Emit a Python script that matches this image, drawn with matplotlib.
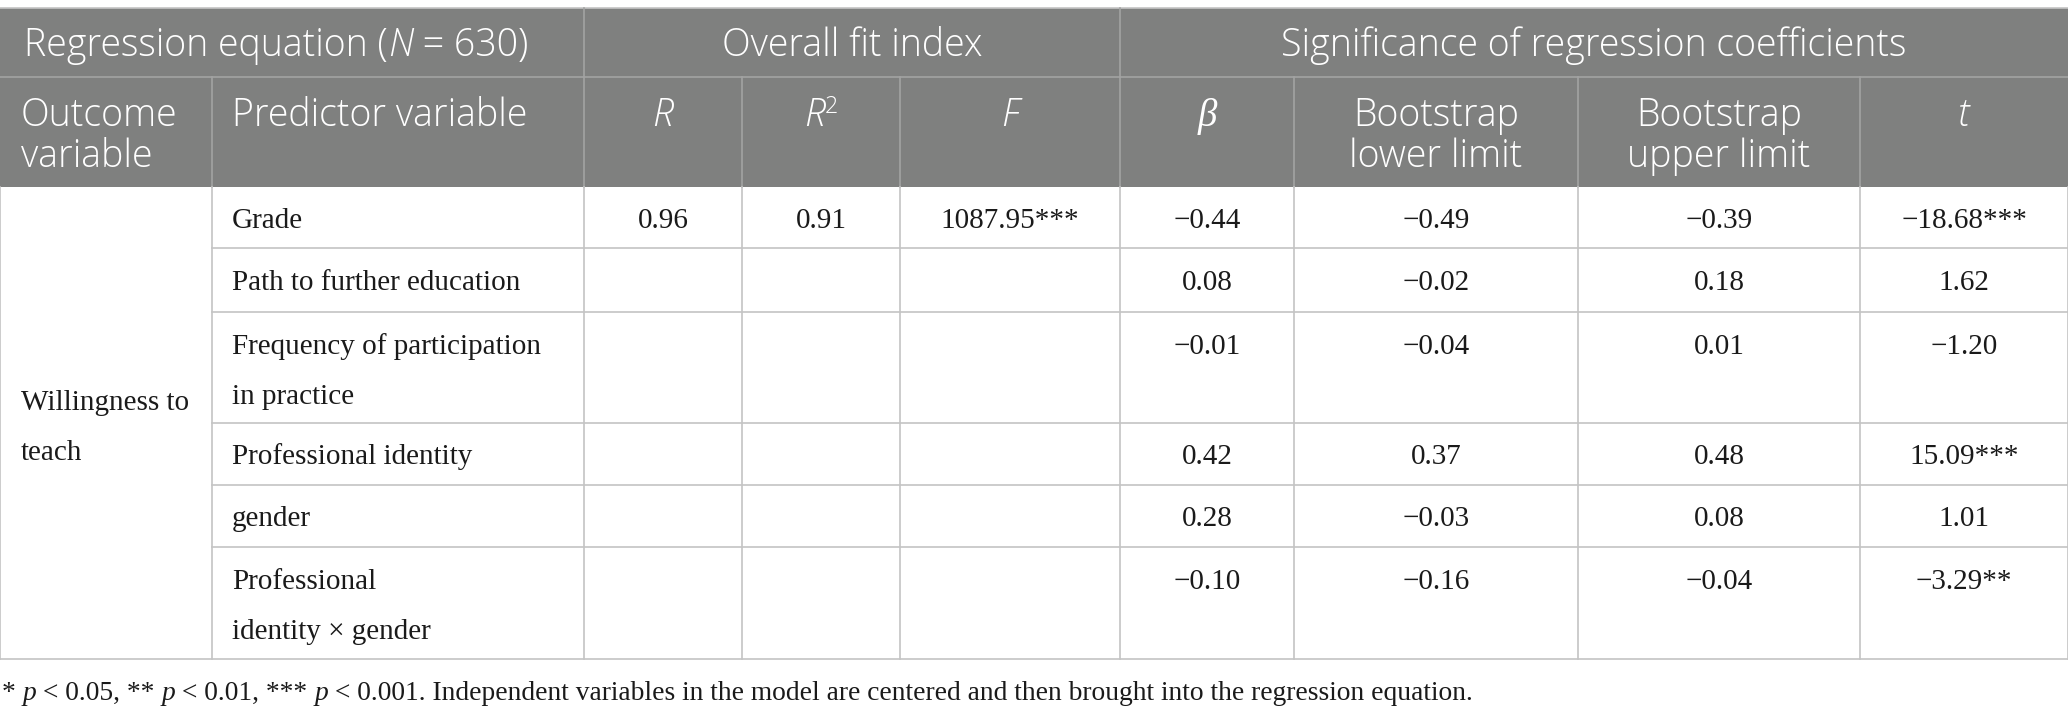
import matplotlib
matplotlib.use('Agg')
import matplotlib.pyplot as plt

# table contents
group_headers = ['Regression equation', 'Overall fit index', 'Significance of regression coefficients']
outcome = ['Willingness to', 'teach']
predictors = [['Grade'],
              ['Path to further education'],
              ['Frequency of participation', 'in practice'],
              ['Professional identity'],
              ['gender'],
              ['Professional', 'identity \u00d7 gender']]
r_vals = ['0.96', '', '', '', '', '']
r2_vals = ['0.91', '', '', '', '', '']
f_vals = ['1087.95***', '', '', '', '', '']
beta_vals = ['\u22120.44', '0.08', '\u22120.01', '0.42', '0.28', '\u22120.10']
lower_vals = ['\u22120.49', '\u22120.02', '\u22120.04', '0.37', '\u22120.03', '\u22120.16']
upper_vals = ['\u22120.39', '0.18', '0.01', '0.48', '0.08', '\u22120.04']
t_vals = ['\u221218.68***', '1.62', '\u22121.20', '15.09***', '1.01', '\u22123.29**']
sample_n = 630

W, H = 2068, 717
fig = plt.figure(figsize=(W / 100, H / 100), dpi=100)
ax = fig.add_axes([0, 0, 1, 1])
ax.set_xlim(0, W)
ax.set_ylim(H, 0)
ax.axis('off')
renderer = fig.canvas.get_renderer()

HEAD_BG = '#7f807f'
HEAD_LINE = '#a3a3a3'
GRID = '#c4c4c4'
SANS = ['Open Sans', 'DejaVu Sans']
SERIF = ['Liberation Serif', 'DejaVu Serif']
HS = 27     # header font size
BS = 21     # body font size
FS = 19.8   # footnote font size

col_x = [0, 212, 584, 742, 900, 1120, 1294, 1578, 1860, 2068]
row_y = [187, 248, 312, 423, 485, 547, 659]
top, mid = 8, 77


def sans(**kw):
    d = dict(family=SANS, size=HS, color='white', weight='light')
    d.update(kw)
    return d


def serif(**kw):
    d = dict(family=SERIF, size=BS, color='#1a1a1a')
    d.update(kw)
    return d


def text_width(s, kw):
    t = ax.text(0, 0, '|' + s + '|', **kw)
    w1 = t.get_window_extent(renderer).width
    t.remove()
    t = ax.text(0, 0, '||', **kw)
    w0 = t.get_window_extent(renderer).width
    t.remove()
    return w1 - w0


def runs(x, y, parts, ha='left'):
    # parts: list of (text, style, dy)
    widths = [text_width(p[0], p[1]) for p in parts]
    if ha == 'center':
        x -= sum(widths) / 2
    for (s, kw, dy), w in zip(parts, widths):
        ax.text(x, y + dy, s, ha='left', va='baseline', **kw)
        x += w


def cx(i):
    return (col_x[i] + col_x[i + 1]) / 2


# header background
ax.add_patch(plt.Rectangle((0, top), W, row_y[0] - top, color=HEAD_BG, lw=0))
ax.plot([0, W], [top, top], color=GRID, lw=1.2)
ax.plot([0, W], [mid, mid], color=HEAD_LINE, lw=1.2)
for x in [col_x[2], col_x[5]]:
    ax.plot([x, x], [top, mid], color=HEAD_LINE, lw=1.2)
for x in col_x[1:-1]:
    ax.plot([x, x], [mid, row_y[0]], color=HEAD_LINE, lw=1.2)

# header row 1
b1 = 56
runs(24, b1, [(group_headers[0] + ' (', sans(), 0), ('N', sans(style='italic'), 0),
              (' = %d)' % sample_n, sans(), 0)])
runs((col_x[2] + col_x[5]) / 2, b1, [(group_headers[1], sans(), 0)], ha='center')
runs((col_x[5] + col_x[9]) / 2, b1, [(group_headers[2], sans(), 0)], ha='center')

# header row 2
l1, l2 = 126, 167
runs(21, l1, [('Outcome', sans(), 0)])
runs(21, l2, [('variable', sans(), 0)])
runs(232, l1, [('Predictor variable', sans(), 0)])
runs(cx(2), l1, [('R', sans(style='italic'), 0)], ha='center')
runs(cx(3), l1, [('R', sans(style='italic'), 0), ('2', sans(size=HS * 0.62), -13)], ha='center')
runs(cx(4), l1, [('F', sans(style='italic'), 0)], ha='center')
runs(cx(5), l1, [('\u03b2', dict(family=SERIF, size=HS + 1, color='white', style='italic'), 0)],
     ha='center')
runs(cx(6), l1, [('Bootstrap', sans(), 0)], ha='center')
runs(cx(6), l2, [('lower limit', sans(), 0)], ha='center')
runs(cx(7), l1, [('Bootstrap', sans(), 0)], ha='center')
runs(cx(7), l2, [('upper limit', sans(), 0)], ha='center')
runs(cx(8), l1, [('t', sans(style='italic'), 0)], ha='center')

# body grid
for y in row_y[1:-1]:
    ax.plot([col_x[1], W], [y, y], color=GRID, lw=1.2)
ax.plot([0, W], [row_y[-1], row_y[-1]], color=GRID, lw=1.2)
for x in col_x:
    ax.plot([x, x], [row_y[0], row_y[-1]], color=GRID, lw=1.2)

# body text
runs(21, 410, [(outcome[0], serif(), 0)])
runs(21, 460, [(outcome[1], serif(), 0)])
cols = [r_vals, r2_vals, f_vals, beta_vals, lower_vals, upper_vals, t_vals]
for i, lines in enumerate(predictors):
    y0, y1 = row_y[i], row_y[i + 1]
    if len(lines) == 1:
        base = (y0 + y1) / 2 + 10
    else:
        base = y0 + 42
    for k, s in enumerate(lines):
        runs(232, base + k * 50, [(s, serif(), 0)])
    for j, vals in enumerate(cols):
        if vals[i]:
            runs(cx(j + 2), base, [(vals[i], serif(), 0)], ha='center')

# footnote
it = serif(style='italic', size=FS)
rm = serif(size=FS)
runs(2, 700, [('* ', rm, 0), ('p', it, 0), (' < 0.05, ** ', rm, 0), ('p', it, 0),
              (' < 0.01, *** ', rm, 0), ('p', it, 0),
              (' < 0.001. Independent variables in the model are centered and then '
               'brought into the regression equation.', rm, 0)])

fig.savefig('out.png', dpi=100)
